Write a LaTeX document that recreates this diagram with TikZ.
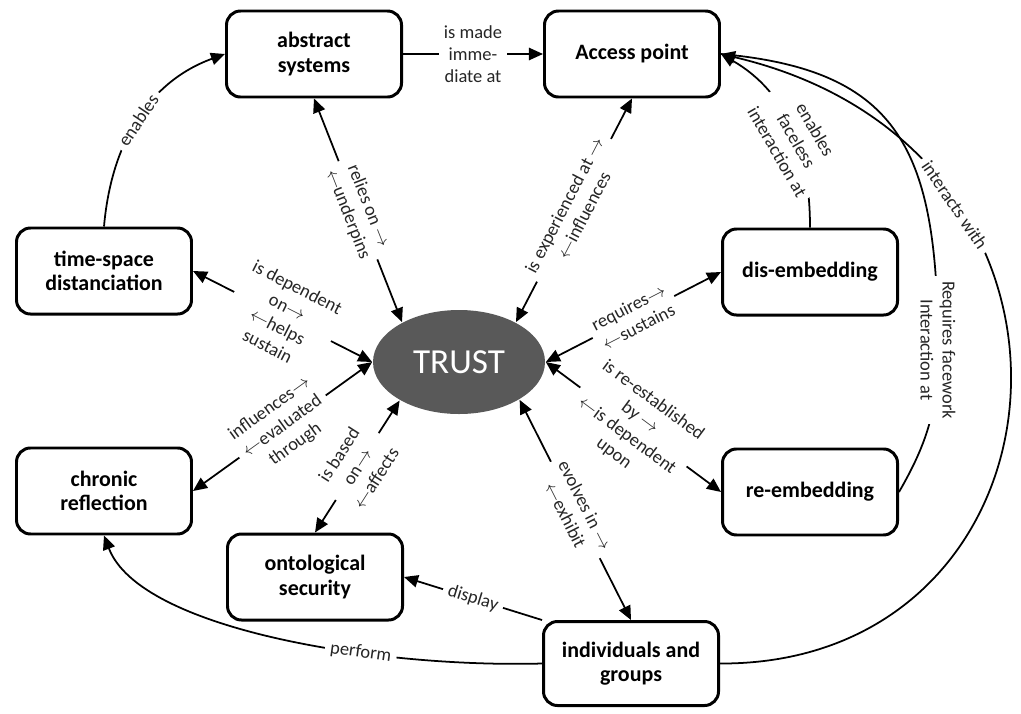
\documentclass[tikz,border=0pt]{standalone}
\usepackage{fontspec}
\setmainfont{Carlito}
\usetikzlibrary{arrows.meta}
\usetikzlibrary{positioning}
\usetikzlibrary{shapes.geometric}
\newcommand{\rarr}{$\rightarrow$}
\newcommand{\larr}{$\leftarrow$}
\newcommand{\relfont}{\fontsize{10.5}{12.5}\selectfont}

\begin{document}
\begin{tikzpicture}[->,>={Triangle[length=8pt,width=7pt]},line width=1pt,
	concept node/.style={rectangle,rounded corners=0.28cm,draw,line width=1.7pt,fill=white,align=center,
		minimum width=3.5cm,minimum height=1.72cm,font=\fontsize{12.5}{14}\selectfont\bfseries},
	trust node/.style={ellipse,fill=black!65,text=white,minimum width=3.44cm,minimum height=2.08cm,
		inner sep=0pt,font=\fontsize{20}{24}\selectfont},
	rel label/.style={fill=white,align=center,inner sep=3pt,text=black!85,font=\relfont}]

	\useasboundingbox (0,0) rectangle (20.42,-14.26);

	\node[trust node] (trust) at (9.18,-7.24) {TRUST};
	\node[concept node] (abstract) at (6.28,-1.08) {abstract\\systems};
	\node[concept node] (access) [right=2.8cm of abstract] {Access point};
	\node[concept node] (timespace) at (2.08,-5.42) {time-space\\distanciation};
	\node[concept node] (chronic) [below=2.62cm of timespace] {chronic\\reflection};
	\node[concept node] (disemb) at (16.2,-5.44) {dis-embedding};
	\node[concept node] (reemb) [below=2.62cm of disemb] {re-embedding};
	\node[concept node] (onto) at (6.3,-11.54) {ontological\\security};
	\node[concept node, minimum height=1.68cm] (indiv) at (12.62,-13.27) {individuals and\\groups};
	\coordinate (facework) at (18.76,-7.0);

	% links in and out of TRUST
	\path[<->, every node/.style={rel label, sloped}]
		(trust.145) edge node {relies on \rarr\\\larr underpins} (abstract.south)
		(trust.35) edge node {is experienced at \rarr\\\larr influences} (access.south)
		(trust.west) edge node {is dependent\\on\rarr\\\larr helps\\sustain} (timespace.east)
			edge node {influences\rarr\\\larr evaluated\\through} (chronic.east)
		(trust.213) edge node {is based\\on\rarr\\\larr affects} (onto.north)
		(trust.328) edge node {evolves in \rarr\\\larr exhibit} (indiv.north)
		(trust.east) edge node {requires\rarr\\\larr sustains} (disemb.west)
			edge node {is re-established\\by \rarr\\\larr is dependent\\upon} (reemb.west);

	% one-way links
	\path[every node/.style={rel label}]
		(abstract.east) edge node {is made\\imme-\\diate at} (access.west)
		(timespace.north) edge [out=85, in=200] node [sloped] {enables} (abstract.west)
		(indiv.north west) edge node [sloped] {display} (onto.east)
		(disemb.north) edge [out=90, in=-30] node [pos=0.42, rotate=-60] {enables\\faceless\\interaction at} (access.east);

	\draw (indiv.west) .. controls (7.6,-13.36) and (2.8,-12.6) .. (chronic.south)
		node [rel label, sloped, pos=0.34] {perform};
	\draw (indiv.east) .. controls (21.6,-13.3) and (22.6,-3.0) .. (access.east)
		node [rel label, sloped, pos=0.73] {interacts with};
	\draw (reemb.east) to [out=60, in=-90] (facework)
		.. controls (18.76,-3.0) and (18.0,-1.4) .. (access.east)
		(facework) node [rel label, rotate=-90] {Requires facework\\Interaction at};

\end{tikzpicture}
\end{document}
